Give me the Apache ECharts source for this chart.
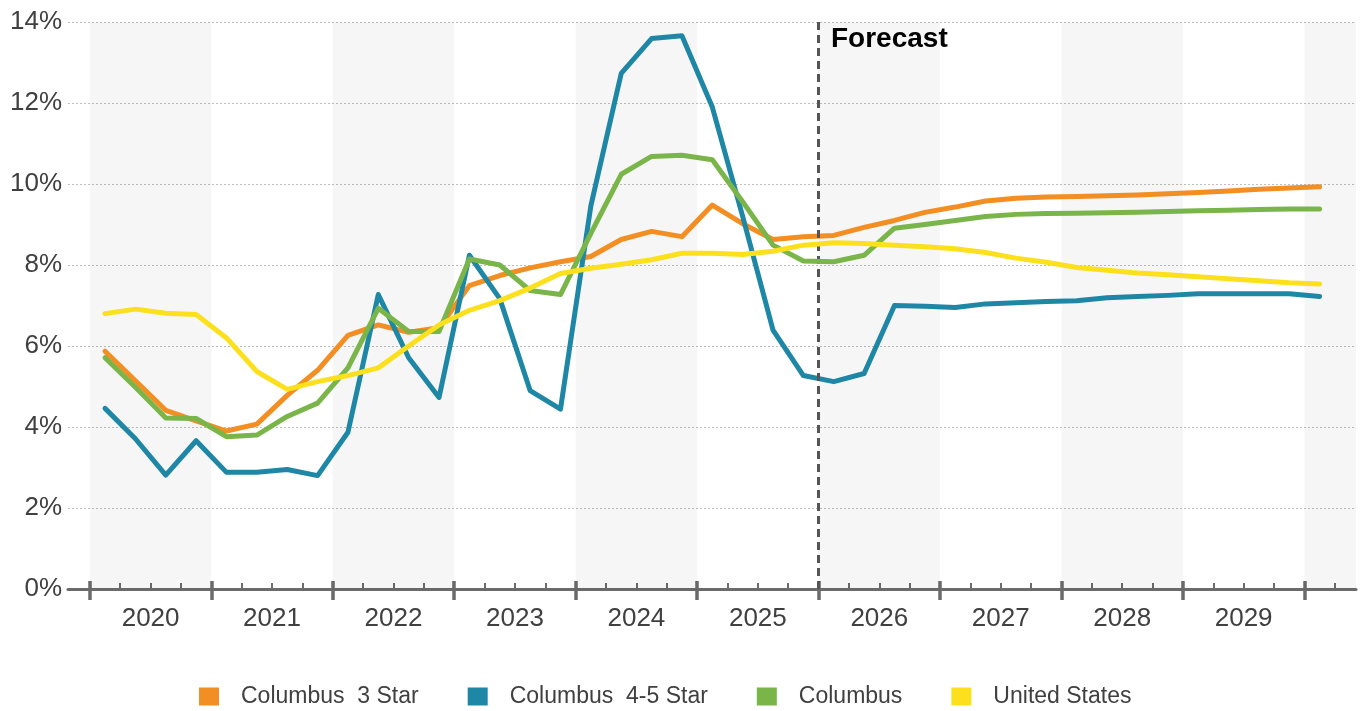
<!DOCTYPE html>
<html><head><meta charset="utf-8">
<script src="https://cdn.jsdelivr.net/npm/echarts@6/dist/echarts.min.js"></script>
<style>html,body{margin:0;padding:0;background:#fff}#c{width:1361px;height:711px}</style>
</head><body><div id="c"></div>
<script>
// Quarterly data, 2020 Q1 .. 2030 Q1
const years = ['2020','2021','2022','2023','2024','2025','2026','2027','2028','2029'];
const forecastStartQuarter = 24; // 2026 Q1
const columbus3Star = [5.87,5.14,4.41,4.15,3.90,4.07,4.78,5.40,6.26,6.52,6.34,6.45,7.49,7.74,7.93,8.08,8.21,8.63,8.83,8.70,9.48,9.02,8.63,8.70,8.73,8.93,9.10,9.30,9.43,9.58,9.65,9.68,9.69,9.71,9.73,9.76,9.79,9.83,9.87,9.90,9.93];
const columbus45Star = [4.46,3.71,2.81,3.66,2.88,2.88,2.95,2.80,3.87,7.27,5.71,4.73,8.24,7.17,4.90,4.44,9.46,12.73,13.59,13.66,11.90,9.20,6.39,5.27,5.12,5.32,7.00,6.98,6.95,7.04,7.07,7.10,7.12,7.19,7.22,7.25,7.29,7.29,7.29,7.29,7.22];
const columbus = [5.71,4.98,4.22,4.21,3.76,3.80,4.26,4.59,5.46,6.93,6.36,6.36,8.15,8.00,7.37,7.27,8.78,10.24,10.68,10.71,10.60,9.56,8.49,8.10,8.08,8.24,8.91,9.00,9.10,9.20,9.25,9.27,9.28,9.29,9.30,9.32,9.34,9.35,9.37,9.38,9.38];
const unitedStates = [6.80,6.91,6.81,6.78,6.20,5.37,4.93,5.12,5.27,5.46,6.00,6.52,6.88,7.12,7.43,7.79,7.92,8.02,8.13,8.29,8.29,8.26,8.34,8.49,8.55,8.53,8.49,8.45,8.40,8.31,8.17,8.07,7.94,7.87,7.80,7.76,7.71,7.66,7.61,7.56,7.53];
const yTicks = [0,2,4,6,8,10,12,14];

const names = ['Columbus  3 Star','Columbus  4-5 Star','Columbus','United States'];
const colors = ['#F28E22','#1F87A6','#7AB54A','#FCE01E'];
const values = [columbus3Star, columbus45Star, columbus, unitedStates];

const XMIN = -0.72, XMAX = 41.7;
const FONT = 'Liberation Sans, Arial, sans-serif';
const minor = [], major = [], labelPos = [];
for (let q = 0; q <= 41; q++) { if (q % 4 === 0) major.push(q); else minor.push(q); }
years.forEach((y, k) => labelPos.push(k * 4 + 2));

const bands = [];
for (let q = 0; q < XMAX; q += 8) bands.push([{xAxis: q}, {xAxis: Math.min(q + 4, XMAX)}]);

function baseX(extra) {
  return Object.assign({type: 'value', min: XMIN, max: XMAX, position: 'bottom', gridIndex: 0,
    splitLine: {show: false}, axisLine: {show: false}, axisLabel: {show: false}, axisTick: {show: false}}, extra);
}

const series = [{
  name: 'bands', type: 'line', data: [], silent: true, z: 1,
  markArea: {silent: true, itemStyle: {color: 'rgba(0,0,0,0.035)'}, data: bands},
  markLine: {silent: true, symbol: 'none', animation: false,
    lineStyle: {color: '#555', width: 3, type: [8, 5]}, label: {show: false},
    data: [{xAxis: forecastStartQuarter}]}
}];
values.forEach((arr, s) => {
  series.push({
    name: names[s], type: 'line', showSymbol: false, symbol: 'none', z: 3 + s,
    data: arr.map((v, i) => [i + 0.5, v]),
    lineStyle: {color: colors[s], width: 5, cap: 'round', join: 'round'},
    itemStyle: {color: colors[s]}
  });
});

const chart = echarts.init(document.getElementById('c'), null, {renderer: 'canvas'});
chart.setOption({
  animation: false,
  backgroundColor: '#fff',
  grid: {left: 68, right: 5, top: 22, bottom: 122, containLabel: false},
  xAxis: [
    baseX({
      axisLine: {show: true, lineStyle: {color: '#6b6b6b', width: 3}},
      axisTick: {show: true, inside: true, length: 6, customValues: minor, lineStyle: {color: '#6b6b6b', width: 2}},
      axisLabel: {show: true, customValues: labelPos, margin: 17, color: '#404040', fontSize: 26, fontFamily: FONT,
        formatter: v => years[Math.round((v - 2) / 4)]}
    }),
    baseX({axisTick: {show: true, inside: true, length: 8, customValues: major, lineStyle: {color: '#6b6b6b', width: 3.5}}}),
    baseX({axisTick: {show: true, inside: false, length: 11, customValues: major, lineStyle: {color: '#6b6b6b', width: 3.5}}})
  ],
  yAxis: {
    type: 'value', min: 0, max: 14, interval: 2,
    axisLine: {show: false}, axisTick: {show: false},
    axisLabel: {formatter: '{value}%', color: '#404040', fontSize: 26, fontFamily: FONT, margin: 6},
    splitLine: {show: true, lineStyle: {color: '#bdbdbd', width: 1, type: [2, 2]}}
  },
  legend: {
    data: names, left: 199, top: 685, padding: 0, icon: 'rect', itemWidth: 20, itemHeight: 18, itemGap: 49,
    textStyle: {color: '#404040', fontSize: 23, fontFamily: FONT, padding: [0, 0, 0, 17]}
  },
  graphic: [{type: 'text', left: 831, top: 25, style: {text: 'Forecast', fill: '#000', font: 'bold 28px ' + FONT}}],
  series: series
});
</script>
</body></html>
